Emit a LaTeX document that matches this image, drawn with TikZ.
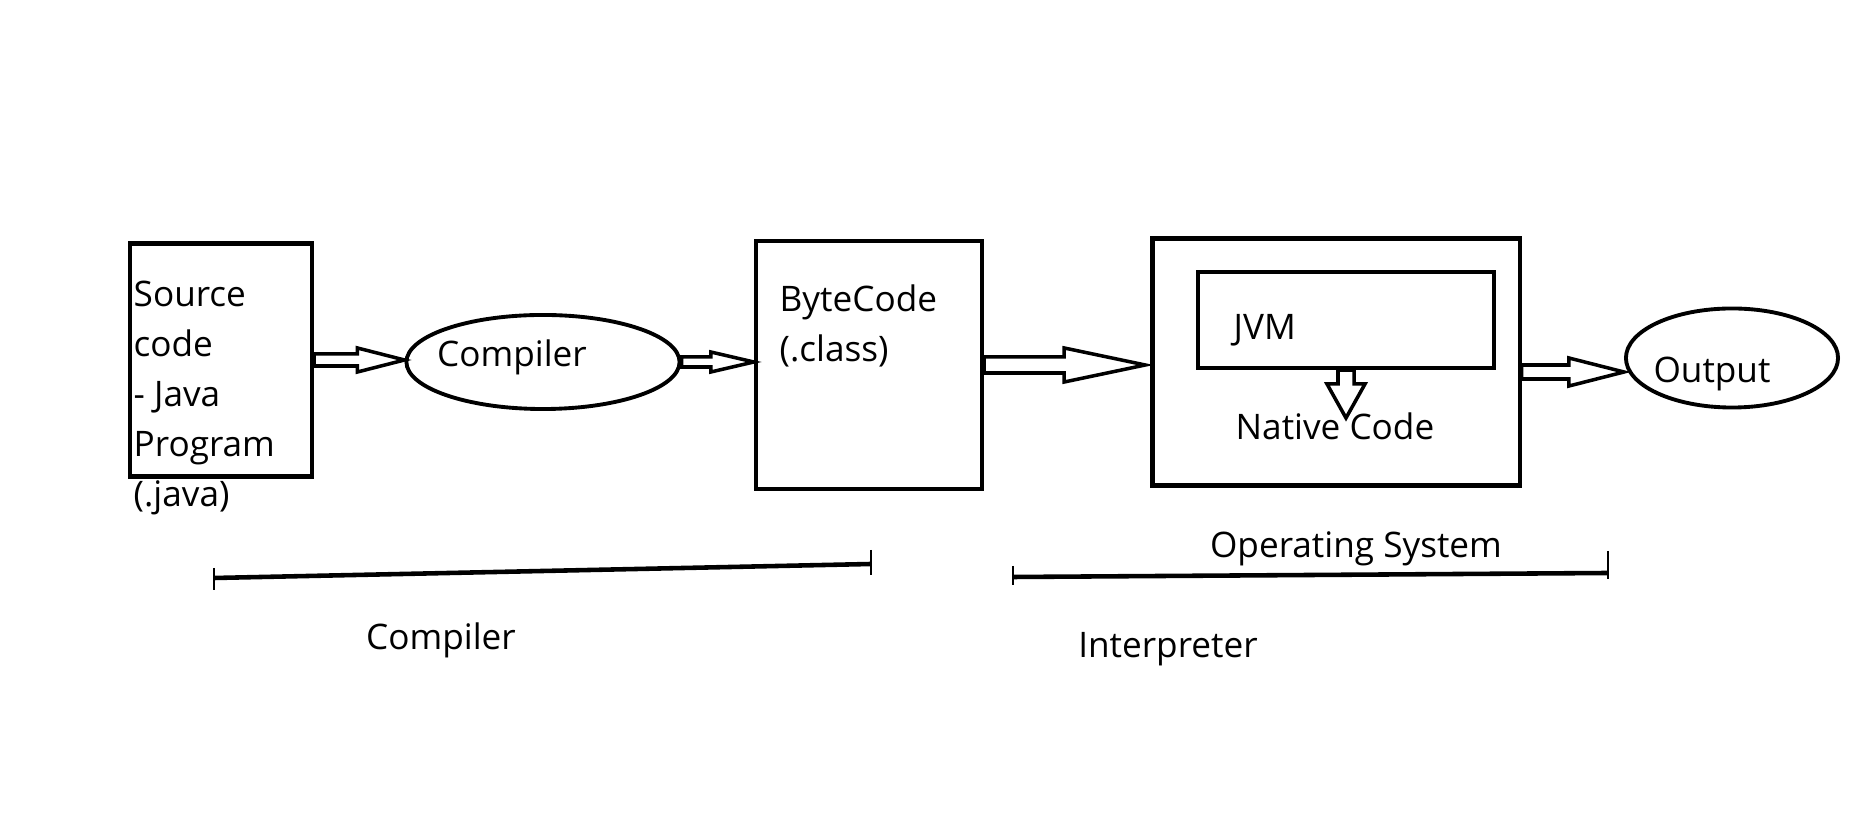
\documentclass[tikz,border=0pt]{standalone}
\usepackage{fontspec}
\setmainfont{Open Sans}
\usepackage{tikz}
\usetikzlibrary{shapes.geometric, calc}

\tikzset{
  fat/.style n args={3}{to path={let \p1=(\tikztostart), \p2=(\tikztotarget) in
    (\x1,\y1+#1) -- (\x2-#3,\y1+#1) -- (\x2-#3,\y1+#2) -- (\x2,\y1) -- (\x2-#3,\y1-#2) -- (\x2-#3,\y1-#1) -- (\x1,\y1-#1) -- cycle}},
  fatdown/.style n args={3}{to path={let \p1=(\tikztostart), \p2=(\tikztotarget) in
    (\x1-#1,\y1) -- (\x1-#1,\y2+#3) -- (\x1-#2,\y2+#3) -- (\x1,\y2) -- (\x1+#2,\y2+#3) -- (\x1+#1,\y2+#3) -- (\x1+#1,\y1) -- cycle}}
}

\begin{document}
\begin{tikzpicture}[x=0.01cm, y=-0.01cm, font=\fontsize{10pt}{14.2pt}\selectfont]
\tikzstyle{block} = [rectangle, draw, line width=1.2pt, inner sep=0pt]
\tikzstyle{oval} = [ellipse, draw, line width=1.1pt, inner sep=0pt]
\tikzstyle{txt} = [inner sep=0pt, align=left]
\tikzstyle{arrowline} = [line width=1pt]
\tikzstyle{bar} = [line width=1.3pt]
\tikzstyle{tick} = [line width=0.8pt]

\useasboundingbox (0,0) rectangle (1865,825);

\node (src) [block, minimum width=1.82cm, minimum height=2.33cm] at (221,360) {};
\node (srctxt) [txt, anchor=west] at (133,398) {Source\\code\\- Java\\Program\\(.java)};
\node (comp) [oval, minimum width=2.73cm, minimum height=0.94cm] at (543,362) {};
\node (comptxt) [txt] at (512,357) {Compiler};
\node (bc) [block, minimum width=2.26cm, minimum height=2.48cm] at (869,365) {};
\node (bctxt) [txt, anchor=west] at (779,326) {ByteCode\\(.class)};
\node (interp) [block, minimum width=3.67cm, minimum height=2.47cm] at (1336,362) {};
\node (jvm) [block, minimum width=2.96cm, minimum height=0.96cm] at (1346,320) {};
\node (jvmtxt) [txt, anchor=west] at (1233,330) {JVM};
\node (native) [txt] at (1335,426) {Native Code};
\coordinate (nativetip) at (1345,418);
\node (out) [oval, minimum width=2.12cm, minimum height=0.99cm] at (1732,358) {};
\node (outtxt) [txt] at (1712,374) {Output};

\draw [arrowline] (src.east) to[fat={0.06cm}{0.12cm}{0.47cm}] (comp.west);
\draw [arrowline] (comp.east) to[fat={0.05cm}{0.10cm}{0.43cm}] (bc.west);
\draw [arrowline] (bc.east) to[fat={0.08cm}{0.17cm}{0.81cm}] ([xshift=-0.05cm]interp.west);
\draw [arrowline] ([yshift=-0.1cm]interp.east) to[fat={0.07cm}{0.14cm}{0.55cm}] ([yshift=-0.1cm]out.west);
\draw [arrowline] (jvm.south) to[fatdown={0.08cm}{0.19cm}{0.34cm}] (nativetip);

\draw [bar] (214,578) -- (871,564);
\draw [tick] (214,568) -- (214,590) (871,550) -- (871,575);
\draw [bar] (1013,577) -- (1608,573);
\draw [tick] (1013,566) -- (1013,585) (1608,551) -- (1608,579);

\node (lblcomp) [txt] at (441,640) {Compiler};
\node (lblint) [txt] at (1168,649) {Interpreter};
\node (lblos) [txt] at (1356,549) {Operating System};
\end{tikzpicture}
\end{document}
